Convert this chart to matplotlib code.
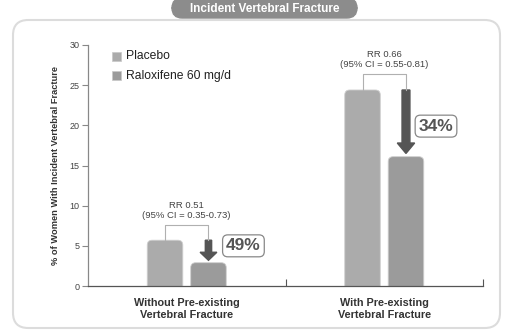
import matplotlib
matplotlib.use("Agg")
import matplotlib.pyplot as plt
from matplotlib.patches import FancyBboxPatch, FancyArrow

plt.rcParams['font.family'] = ['Liberation Sans', 'DejaVu Sans']

# data
groups = ["Without Pre-existing\nVertebral Fracture", "With Pre-existing\nVertebral Fracture"]
series = ["Placebo", "Raloxifene 60 mg/d"]
placebo = [5.7, 24.4]
raloxifene = [2.9, 16.1]
rr_text = ["RR 0.51\n(95% CI = 0.35-0.73)", "RR 0.66\n(95% CI = 0.55-0.81)"]
reduction = ["49%", "34%"]
yticks = [0, 5, 10, 15, 20, 25, 30]

bar_cols = ["#ababab", "#9b9b9b"]
W, H = 508, 332

fig = plt.figure(figsize=(W / 100, H / 100), dpi=100)
fig.patch.set_facecolor("white")

# outer rounded frame
frame = FancyBboxPatch((13 / W, 1 - 328 / H), 487 / W, 308 / H,
                       boxstyle="round,pad=0,rounding_size=0.03",
                       transform=fig.transFigure, fc="white", ec="#dcdcdc", lw=1.5,
                       mutation_aspect=W / H, zorder=-10)
fig.patches.append(frame)

# title banner
banner = FancyBboxPatch((172 / W, 1 - 18 / H), 185 / W, 20 / H,
                        boxstyle="round,pad=0,rounding_size=0.02",
                        transform=fig.transFigure, fc="#8c8c8c", ec="#8c8c8c", lw=1,
                        mutation_aspect=W / H, zorder=-5)
fig.patches.append(banner)
fig.text(264.5 / W, 1 - 9 / H, "Incident Vertebral Fracture", color="white",
         fontsize=8.5, fontweight="bold", ha="center", va="center")

ax = fig.add_axes([88 / W, 1 - 286 / H, 395 / W, 241 / H])
ax.set_xlim(0, 2)
ax.set_ylim(0, 30)
ax.patch.set_alpha(0)

centers = [0.5, 1.5]
off = 0.11
bw = 0.18
asp = (30 / 241) / (2 / 395)

for i, c in enumerate(centers):
    for j, (vals, col) in enumerate([(placebo, bar_cols[0]), (raloxifene, bar_cols[1])]):
        x0 = c + (-off if j == 0 else off) - bw / 2
        p = FancyBboxPatch((x0, -2), bw, vals[i] + 2,
                           boxstyle="round,pad=0,rounding_size=0.025",
                           mutation_aspect=asp, fc=col, ec="#cfcfcf", lw=0.6)
        ax.add_patch(p)

    # bracket
    xl, xr = c - off, c + off
    top = placebo[i] + (1.9 if i == 0 else 2.0)
    ax.plot([xl, xl, xr, xr], [placebo[i], top, top, placebo[i]],
            color="#b0b0b0", lw=0.8)

    # arrow
    if i == 0:
        ax.add_patch(FancyArrow(xr, placebo[i], 0, raloxifene[i] + 0.3 - placebo[i],
                                width=0.032, head_width=0.085, head_length=1.0,
                                length_includes_head=True, fc="#555555", ec="#555555"))
    else:
        ax.add_patch(FancyArrow(xr, placebo[i], 0, raloxifene[i] + 0.4 - placebo[i],
                                width=0.04, head_width=0.088, head_length=1.3,
                                length_includes_head=True, fc="#555555", ec="#555555"))

    # RR text
    ax.text(c, top + 0.6, rr_text[i], ha="center", va="bottom", fontsize=6.8,
            color="#444444", linespacing=1.2)

# reduction boxes
box_pos = [(0.787, 5.0), (1.762, 19.9)]
for (bx, by), t in zip(box_pos, reduction):
    ax.text(bx, by, t, ha="center", va="center", fontsize=12.5, fontweight="bold",
            color="#555555",
            bbox=dict(boxstyle="round,pad=0.2,rounding_size=0.3", fc="white",
                      ec="#888888", lw=0.9))

# axes styling
for s in ["top", "right"]:
    ax.spines[s].set_visible(False)
ax.spines["left"].set_color("#888888")
ax.spines["bottom"].set_color("#555555")
ax.spines["left"].set_linewidth(0.9)
ax.spines["bottom"].set_linewidth(0.9)
ax.set_yticks(yticks)
ax.tick_params(axis="y", length=4, width=0.8, color="#888888", labelsize=6.5,
               labelcolor="#444444", pad=2)
ax.set_xticks([1, 2])
ax.set_xticklabels([])
ax.tick_params(axis="x", direction="in", length=5, width=0.8, color="#555555")

for c, g in zip(centers, groups):
    ax.text(c, -1.5, g, ha="center", va="top", fontsize=7.8, fontweight="bold",
            color="#333333", linespacing=1.3)

ax.set_ylabel("% of Women With Incident Vertebral Fracture", fontsize=6.7,
              fontweight="bold", color="#333333", labelpad=7)

# legend
for k, (lab, col) in enumerate(zip(series, bar_cols)):
    yy = 1 - (56 + 20 * k) / H
    fig.patches.append(plt.Rectangle((112 / W, yy - 4.5 / H), 9 / W, 9 / H,
                                     transform=fig.transFigure, fc=col, ec="#c8c8c8", lw=0.5))
    fig.text(126 / W, yy, lab, fontsize=8.7, color="#222222", va="center", ha="left")

fig.savefig("out.png", dpi=100)
